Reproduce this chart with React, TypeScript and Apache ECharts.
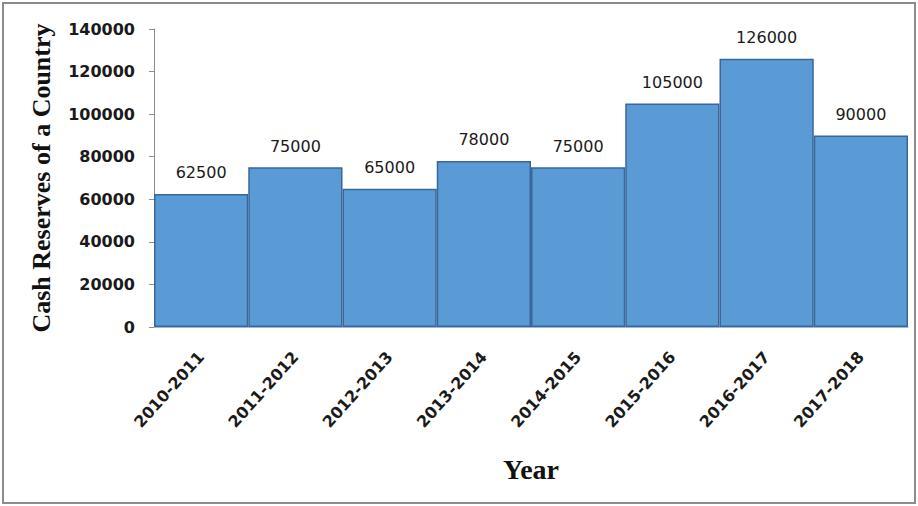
import React, { useEffect, useRef } from "react";
import * as echarts from "echarts";

const categories = ["2010-2011", "2011-2012", "2012-2013", "2013-2014", "2014-2015", "2015-2016", "2016-2017", "2017-2018"];
const reserves = [62500, 75000, 65000, 78000, 75000, 105000, 126000, 90000];
const yTicks = [0, 20000, 40000, 60000, 80000, 100000, 120000, 140000];

export default function App() {
  const ref = useRef<HTMLDivElement>(null);
  useEffect(() => {
    if (!ref.current) return;
    const chart = echarts.init(ref.current, null, { renderer: "svg" });
    chart.setOption({
      animation: false,
      backgroundColor: "#ffffff",
      graphic: [
        {
          type: "rect",
          shape: { x: 3, y: 3, width: 912, height: 500 },
          style: { fill: "none", stroke: "#8c8c8c", lineWidth: 2 },
          silent: true,
        },
      ],
      grid: { left: 154, right: 10, top: 29, bottom: 179 },
      xAxis: {
        type: "category",
        data: categories,
        name: "Year",
        nameLocation: "middle",
        nameGap: 128,
        nameTextStyle: { fontFamily: "Liberation Serif", fontWeight: "bold", fontSize: 28, color: "#111" },
        axisLine: { show: true, lineStyle: { color: "#9bb7d4", width: 1 } },
        axisTick: { show: false },
        axisLabel: {
          rotate: 48,
          margin: 27,
          fontFamily: "DejaVu Sans",
          fontWeight: "bold",
          fontSize: 16,
          color: "#1a1a1a",
        },
      },
      yAxis: {
        type: "value",
        min: yTicks[0],
        max: yTicks[yTicks.length - 1],
        interval: 20000,
        name: "Cash Reserves of a Country",
        nameLocation: "middle",
        nameGap: 100,
        nameTextStyle: { fontFamily: "Liberation Serif", fontWeight: "bold", fontSize: 26, color: "#111" },
        splitLine: { show: false },
        axisLine: { show: true, lineStyle: { color: "#8c8c8c", width: 1 } },
        axisTick: { show: true, length: 5, lineStyle: { color: "#8c8c8c" } },
        axisLabel: {
          margin: 19,
          formatter: (v: number) => String(v),
          fontFamily: "DejaVu Sans",
          fontWeight: "bold",
          fontSize: 16,
          color: "#1a1a1a",
        },
      },
      series: [
        {
          type: "bar",
          data: reserves,
          barCategoryGap: "0%",
          itemStyle: { color: "#5b9bd5", borderColor: "#3a679a", borderWidth: 1.5 },
          label: {
            show: true,
            position: "top",
            distance: 13,
            fontFamily: "DejaVu Sans",
            fontSize: 16,
            color: "#1a1a1a",
          },
        },
      ],
    });
    return () => chart.dispose();
  }, []);
  return <div ref={ref} style={{ position: "fixed", left: 0, top: 0, width: 918, height: 506 }} />;
}
